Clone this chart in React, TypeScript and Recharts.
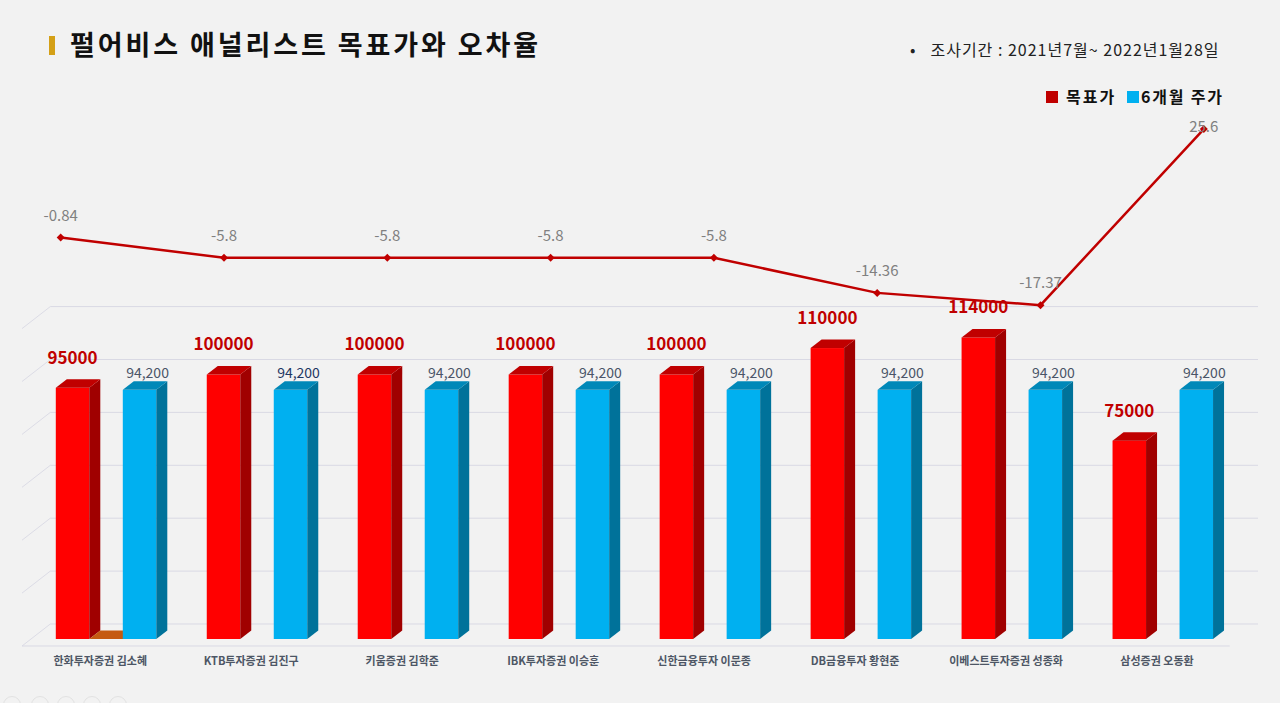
import React from "react";
import {
  ComposedChart,
  Bar,
  XAxis,
  YAxis,
  CartesianGrid,
  LineChart,
  Line,
} from "recharts";

const analysts = [
  "한화투자증권 김소혜",
  "KTB투자증권 김진구",
  "키움증권 김학준",
  "IBK투자증권 이승훈",
  "신한금융투자 이문종",
  "DB금융투자 황현준",
  "이베스트투자증권 성종화",
  "삼성증권 오동환",
];
const targetPrices = [95000, 100000, 100000, 100000, 100000, 110000, 114000, 75000];
const sixMonthPrices = [94200, 94200, 94200, 94200, 94200, 94200, 94200, 94200];
const errorRates = [-0.84, -5.8, -5.8, -5.8, -5.8, -14.36, -17.37, 25.6];
// the zero-height orange box that shows in the first group only
const errorFloor = [0, null, null, null, null, null, null, null];
const priceTicks = [0, 20000, 40000, 60000, 80000, 100000, 120000];

const data = analysts.map((name, i) => ({
  name,
  target: targetPrices[i],
  floor: errorFloor[i],
  price: sixMonthPrices[i],
  rate: errorRates[i],
}));

const FONT = '"Noto Sans CJK KR", "Noto Sans", sans-serif';
const DX = 11;
const DY = 8.5;

function box(x: number, y: number, w: number, h: number, front: string, side: string, top: string) {
  const b = y + h;
  return (
    <>
      <rect x={x} y={y} width={w} height={h} fill={front} />
      <polygon
        points={`${x + w},${y} ${x + w + DX},${y - DY} ${x + w + DX},${b - DY} ${x + w},${b}`}
        fill={side}
      />
      <polygon
        points={`${x},${y} ${x + w},${y} ${x + w + DX},${y - DY} ${x + DX},${y - DY}`}
        fill={top}
      />
    </>
  );
}

const RedBar = (props: any) => {
  const { x, y, width, height, payload } = props;
  return (
    <g>
      {box(x, y, width, height, "#ff0000", "#a00000", "#c00000")}
      <text
        x={x + width / 2}
        y={y - 30}
        dy="0.35em"
        textAnchor="middle"
        fontSize={17}
        fontWeight={700}
        fill="#c00000"
        fontFamily={FONT}
      >
        {payload.target}
      </text>
    </g>
  );
};

const BlueBar = (props: any) => {
  const { x, y, width, height, payload, index } = props;
  return (
    <g>
      {box(x, y, width, height, "#00b0f0", "#00729a", "#0088b8")}
      <text
        x={x + width / 2 + 8}
        y={y - 17}
        dy="0.35em"
        textAnchor="middle"
        fontSize={14}
        fill={index === 1 ? "#1f3864" : "#4a5568"}
        fontFamily={FONT}
      >
        {payload.price.toLocaleString("en-US")}
      </text>
    </g>
  );
};

const FloorBar = (props: any) => {
  const { x, y, width, height, payload } = props;
  if (payload.floor == null) return null;
  const b = y + height;
  return (
    <polygon
      points={`${x},${b} ${x + width},${b} ${x + width + DX},${b - DY} ${x + DX},${b - DY}`}
      fill="#c55a11"
    />
  );
};

const gridLine = (props: any) => {
  const { x1, x2, y1, index } = props;
  const isFloor = Math.abs(y1 - (props.y + props.height)) < 0.5;
  const bx = 19.5;
  const by = -15;
  const fx = -8.8;
  const fy = 7;
  return (
    <g key={`g-${index}`}>
      <line x1={x1 + bx} y1={y1 + by} x2={x2 + bx} y2={y1 + by} stroke="#d9d9e4" strokeWidth={1} />
      <line x1={x1 + fx} y1={y1 + fy} x2={x1 + bx} y2={y1 + by} stroke="#dcdce6" strokeWidth={1} />
      {isFloor && (
        <line x1={x1 + fx} y1={y1 + fy} x2={x2 + fx} y2={y1 + fy} stroke="#d9d9e4" strokeWidth={1} />
      )}
    </g>
  );
};

const NameTick = (props: any) => {
  const { x, y, payload } = props;
  return (
    <text
      x={x - 6}
      y={y + 18}
      textAnchor="middle"
      fontSize={11}
      fontWeight={700}
      fill="#4d5665"
      fontFamily={FONT}
    >
      {payload.value}
    </text>
  );
};

const RateDot = (props: any) => {
  const { cx, cy, index, payload } = props;
  if (cx == null || cy == null) return null;
  const s = 4;
  const ly = Math.max(cy - 22, 127);
  return (
    <g key={`d-${index}`}>
      <polygon
        points={`${cx},${cy - s} ${cx + s},${cy} ${cx},${cy + s} ${cx - s},${cy}`}
        fill="#c00000"
      />
      <text
        x={cx}
        y={ly}
        dy="0.35em"
        textAnchor="middle"
        fontSize={15}
        fill="#808080"
        fontFamily={FONT}
      >
        {payload.rate}
      </text>
    </g>
  );
};

export default function App() {
  return (
    <div
      style={{
        position: "absolute",
        left: 0,
        top: 0,
        width: 1280,
        height: 703,
        background: "#f2f2f2",
        overflow: "hidden",
        fontFamily: FONT,
      }}
    >
      <div
        style={{ position: "absolute", left: 49, top: 36, width: 6, height: 19, background: "#d4a017" }}
      />
      <div
        style={{
          position: "absolute",
          left: 70,
          top: 26,
          fontSize: 27,
          fontWeight: 700,
          letterSpacing: 2.9,
          color: "#111",
          lineHeight: "36px",
          whiteSpace: "nowrap",
        }}
      >
        펄어비스 애널리스트 목표가와 오차율
      </div>
      <div
        style={{
          position: "absolute",
          left: 910,
          top: 38,
          fontSize: 16,
          letterSpacing: 1,
          color: "#222",
          lineHeight: "22px",
          whiteSpace: "nowrap",
        }}
      >
        <span style={{ marginRight: 14 }}>•</span>조사기간 : 2021년7월~ 2022년1월28일
      </div>

      <div style={{ position: "absolute", left: 1046, top: 91, width: 12, height: 12, background: "#c00000" }} />
      <div
        style={{
          position: "absolute",
          left: 1066,
          top: 85,
          fontSize: 16,
          fontWeight: 700,
          letterSpacing: 2,
          color: "#111",
          lineHeight: "22px",
          whiteSpace: "nowrap",
        }}
      >
        목표가
      </div>
      <div style={{ position: "absolute", left: 1127, top: 91, width: 12, height: 12, background: "#00b0f0" }} />
      <div
        style={{
          position: "absolute",
          left: 1141,
          top: 85,
          fontSize: 16,
          fontWeight: 700,
          letterSpacing: 1.8,
          color: "#111",
          lineHeight: "22px",
          whiteSpace: "nowrap",
        }}
      >
        6개월 주가
      </div>

      <div style={{ position: "absolute", left: 0, top: 0 }}>
        <ComposedChart
          width={1280}
          height={703}
          data={data}
          margin={{ top: 321.6, right: 41.5, bottom: 34, left: 30.8 }}
          barSize={33.5}
          barGap={0}
        >
          <CartesianGrid vertical={false} horizontal={gridLine} />
          <XAxis
            dataKey="name"
            axisLine={false}
            tickLine={false}
            height={30}
            tick={<NameTick />}
            interval={0}
          />
          <YAxis hide domain={[0, 120000]} ticks={priceTicks} />
          <Bar dataKey="target" name="목표가" fill="#ff0000" shape={RedBar} isAnimationActive={false} />
          <Bar dataKey="floor" name="오차율" fill="#c55a11" shape={FloorBar} isAnimationActive={false} />
          <Bar dataKey="price" name="6개월 주가" fill="#00b0f0" shape={BlueBar} isAnimationActive={false} />
        </ComposedChart>
      </div>

      <div style={{ position: "absolute", left: 0, top: 0 }}>
        <LineChart
          width={1280}
          height={703}
          data={data}
          margin={{ top: 70, right: 76.2, bottom: 223, left: 60.7 }}
        >
          <XAxis dataKey="name" hide scale="point" padding={{ left: 0, right: 0 }} />
          <YAxis hide domain={[-60, 40]} />
          <Line
            dataKey="rate"
            name="오차율"
            stroke="#c00000"
            strokeWidth={2.5}
            dot={RateDot}
            activeDot={false}
            isAnimationActive={false}
          />
        </LineChart>
      </div>

      {[12, 40, 66, 92, 118].map((cx) => (
        <div
          key={cx}
          style={{
            position: "absolute",
            left: cx - 9,
            top: 696,
            width: 16,
            height: 16,
            borderRadius: 9,
            border: "1px solid #e2e2e2",
          }}
        />
      ))}
    </div>
  );
}
